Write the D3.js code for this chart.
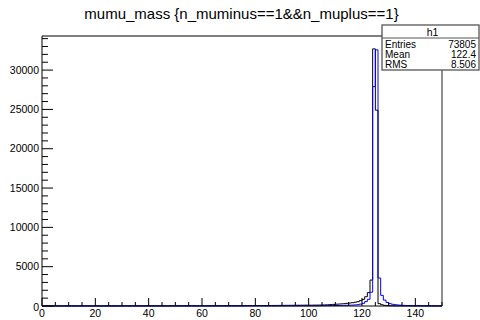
<!DOCTYPE html>
<html>
<head>
<meta charset="utf-8">
<script src="https://cdn.jsdelivr.net/npm/d3@7"></script>
<style>
  body { margin: 0; background: #fff; }
  svg { display: block; font-family: "Liberation Sans", Arial, sans-serif; }
</style>
</head>
<body>
<div id="plot"></div>
<script>
// Bin edges: 150 bins of width 1 from 0 to 150
const binLow = 0, binWidth = 1;

// h1 (black) bin contents
const h1Counts = [
  6, 8, 7, 9, 8, 10, 9, 8, 11, 9,
  10, 12, 9, 11, 10, 12, 11, 13, 10, 12,
  12, 11, 13, 12, 14, 12, 13, 15, 13, 14,
  14, 15, 13, 16, 15, 14, 17, 15, 16, 18,
  16, 18, 17, 19, 18, 20, 19, 21, 20, 22,
  21, 23, 22, 24, 23, 25, 26, 24, 27, 26,
  28, 27, 29, 30, 29, 31, 32, 31, 33, 34,
  35, 36, 37, 38, 40, 41, 43, 44, 46, 48,
  50, 52, 55, 57, 60, 63, 66, 70, 73, 77,
  80, 83, 86, 89, 92, 95, 98, 101, 104, 107,
  100, 106, 112, 118, 125, 132, 145, 160, 180, 205,
  230, 250, 275, 300, 340, 380, 420, 480, 550, 680,
  850, 1180, 1700, 3300, 32700, 24900, 300, 160, 80, 50,
  35, 28, 22, 18, 16, 14, 13, 12, 11, 10,
  10, 9, 9, 8, 8, 7, 7, 7, 6, 6
];

// second histogram (blue) bin contents
const h2Counts = [
  3, 4, 3, 4, 4, 5, 4, 5, 5, 4,
  5, 5, 6, 5, 6, 5, 6, 6, 7, 6,
  6, 7, 7, 6, 7, 8, 7, 8, 8, 7,
  8, 8, 9, 8, 9, 9, 8, 9, 10, 9,
  9, 10, 10, 11, 10, 11, 11, 10, 11, 12,
  11, 12, 12, 11, 12, 13, 12, 13, 13, 12,
  13, 13, 14, 13, 14, 14, 13, 14, 15, 14,
  14, 15, 15, 14, 15, 15, 16, 15, 16, 16,
  15, 16, 16, 17, 16, 17, 17, 16, 17, 17,
  16, 17, 18, 19, 20, 21, 22, 24, 25, 27,
  29, 31, 33, 35, 38, 41, 44, 48, 52, 57,
  62, 68, 75, 83, 92, 103, 117, 135, 170, 240,
  340, 560, 850, 1750, 27900, 32570, 3560, 1350, 750, 450,
  300, 220, 170, 130, 105, 85, 70, 60, 52, 45,
  40, 36, 32, 29, 26, 24, 22, 20, 18, 17
];

const title = "mumu_mass {n_muminus==1&&n_muplus==1}";
const statsName = "h1";
const statsLabels = ["Entries", "Mean", "RMS"];
const statsValues = ["73805", "122.4", "8.506"];

const xMajorTicks = [0, 20, 40, 60, 80, 100, 120, 140];
const yMajorTicks = [0, 5000, 10000, 15000, 20000, 25000, 30000];

const W = 480, H = 320;
const frame = { left: 42, right: 442, top: 36, bottom: 306 };

const svg = d3.select("#plot").append("svg")
  .attr("width", W)
  .attr("height", H);

const nBins = h1Counts.length;
const x = d3.scaleLinear()
  .domain([binLow, binLow + nBins * binWidth])
  .range([frame.left, frame.right]);

const yMax = 1.05 * d3.max([d3.max(h1Counts), d3.max(h2Counts)]);
const y = d3.scaleLinear()
  .domain([0, yMax])
  .range([frame.bottom, frame.top]);

// frame (top and right sides grey)
svg.append("path")
  .attr("d", `M${frame.left},${frame.top}H${frame.right}V${frame.bottom}`)
  .attr("fill", "none")
  .attr("stroke", "#555")
  .attr("stroke-width", 1.3);

// step path for a histogram
function stepPath(counts) {
  let p = "";
  counts.forEach((c, i) => {
    const x0 = x(binLow + i * binWidth), x1 = x(binLow + (i + 1) * binWidth);
    p += (i === 0 ? `M${x0},${y(c)}` : `V${y(c)}`) + `H${x1}`;
  });
  return p;
}

const plotArea = svg.append("g");
plotArea.append("path")
  .attr("d", stepPath(h1Counts))
  .attr("fill", "none")
  .attr("stroke", "#000")
  .attr("stroke-width", 1);

plotArea.append("path")
  .attr("d", stepPath(h2Counts))
  .attr("fill", "none")
  .attr("stroke", "#0000ff")
  .attr("stroke-width", 1);

// X axis: ticks point upward into the frame
const xMinor = d3.range(0, 151, 5).filter(v => !xMajorTicks.includes(v));
const xAxis = svg.append("g");
xAxis.append("line")
  .attr("x1", frame.left).attr("x2", frame.right)
  .attr("y1", frame.bottom).attr("y2", frame.bottom)
  .attr("stroke", "#000");
xAxis.selectAll(".xmaj").data(xMajorTicks).join("line")
  .attr("x1", d => x(d)).attr("x2", d => x(d))
  .attr("y1", frame.bottom).attr("y2", frame.bottom - 8)
  .attr("stroke", "#000");
xAxis.selectAll(".xmin").data(xMinor).join("line")
  .attr("x1", d => x(d)).attr("x2", d => x(d))
  .attr("y1", frame.bottom).attr("y2", frame.bottom - 4)
  .attr("stroke", "#000");
xAxis.selectAll("text").data(xMajorTicks).join("text")
  .attr("x", d => x(d))
  .attr("y", 316.5)
  .attr("text-anchor", "middle")
  .attr("font-size", "10.5px")
  .text(d => d);

// Y axis: ticks point right into the frame
const yMinor = d3.range(1000, yMax, 1000).filter(v => v % 5000 !== 0);
const yAxis = svg.append("g");
yAxis.append("line")
  .attr("x1", frame.left).attr("x2", frame.left)
  .attr("y1", frame.top).attr("y2", frame.bottom)
  .attr("stroke", "#000");
yAxis.selectAll(".ymaj").data(yMajorTicks).join("line")
  .attr("x1", frame.left).attr("x2", frame.left + 11)
  .attr("y1", d => y(d)).attr("y2", d => y(d))
  .attr("stroke", "#000");
yAxis.selectAll(".ymin").data(yMinor).join("line")
  .attr("x1", frame.left).attr("x2", frame.left + 6)
  .attr("y1", d => y(d)).attr("y2", d => y(d))
  .attr("stroke", "#000");
yAxis.selectAll("text").data(yMajorTicks).join("text")
  .attr("x", 39)
  .attr("y", d => y(d) + (d === 0 ? 1 : 0))
  .attr("dy", "0.35em")
  .attr("text-anchor", "end")
  .attr("font-size", "10.5px")
  .text(d => d);

// title
svg.append("text")
  .attr("x", 241.5)
  .attr("y", 18.5)
  .attr("text-anchor", "middle")
  .attr("font-size", "15px")
  .text(title);

// stats box
const box = { x0: 382, x1: 479, y0: 25, y1: 70, head: 38 };
const stats = svg.append("g");
stats.append("rect")
  .attr("x", box.x0).attr("y", box.y0)
  .attr("width", box.x1 - box.x0).attr("height", box.y1 - box.y0)
  .attr("fill", "#fff")
  .attr("stroke", "#555")
  .attr("stroke-width", 1.3);
stats.append("line")
  .attr("x1", box.x0).attr("x2", box.x1)
  .attr("y1", box.head).attr("y2", box.head)
  .attr("stroke", "#555");
stats.append("text")
  .attr("x", (box.x0 + box.x1) / 2 + 2)
  .attr("y", 35.5)
  .attr("text-anchor", "middle")
  .attr("font-size", "10.5px")
  .text(statsName);
const rowY = [47.5, 57.5, 67.5];
stats.selectAll(".lab").data(statsLabels).join("text")
  .attr("x", 385)
  .attr("y", (d, i) => rowY[i])
  .attr("font-size", "10px")
  .text(d => d);
stats.selectAll(".val").data(statsValues).join("text")
  .attr("x", 476)
  .attr("y", (d, i) => rowY[i])
  .attr("text-anchor", "end")
  .attr("font-size", "10px")
  .text(d => d);
</script>
</body>
</html>
